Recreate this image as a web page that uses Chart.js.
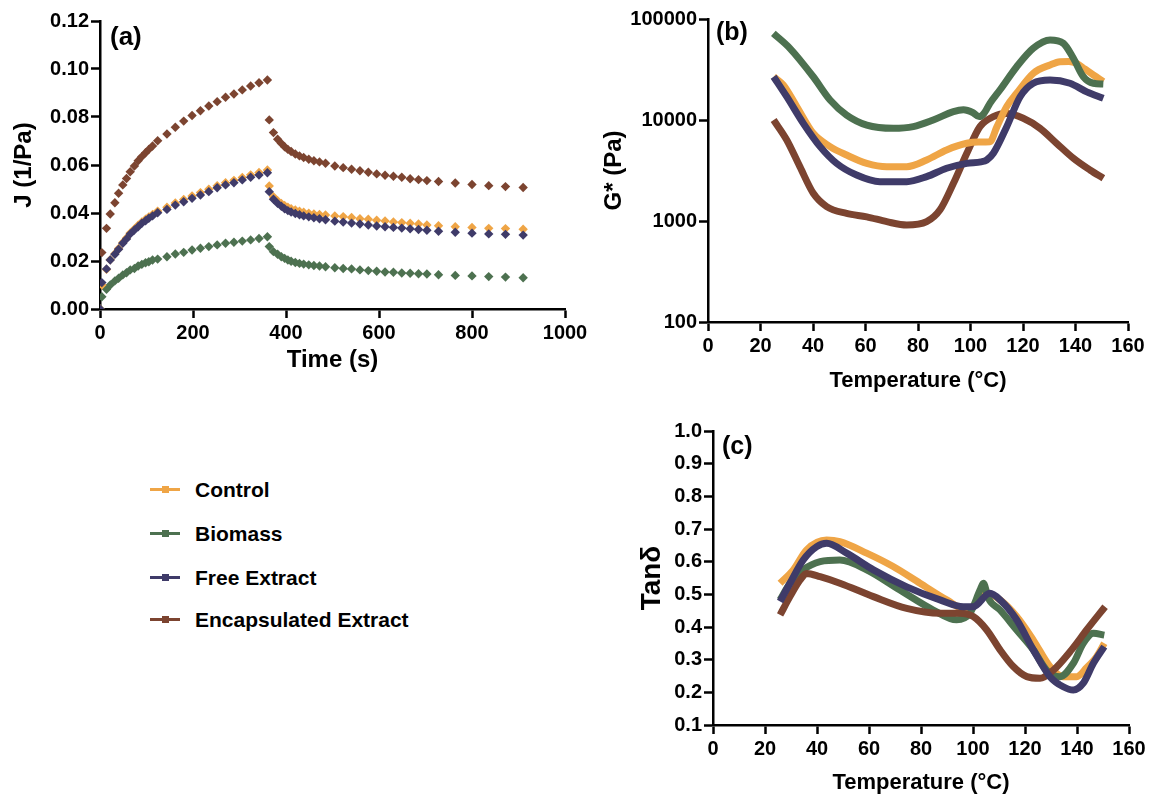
<!DOCTYPE html>
<html><head><meta charset="utf-8">
<script src="https://cdn.jsdelivr.net/npm/chart.js@4.4.1/dist/chart.umd.min.js"></script>
<style>
body{margin:0;background:#fff;width:1151px;height:796px;position:relative;overflow:hidden;font-family:'Liberation Sans',Arial,sans-serif;}
canvas{position:absolute;}
.li{position:absolute;left:0;height:30px;width:500px;}
.li .ln{position:absolute;left:150px;top:13px;width:30px;height:3px;}
.li .mk{position:absolute;left:162px;top:11px;width:7px;height:7px;}
.li .tx{position:absolute;left:195px;top:0;font-weight:bold;font-size:21px;line-height:30px;color:#000;white-space:nowrap;}
</style></head><body>
<canvas id="ca" width="600" height="379" style="left:0;top:0"></canvas>
<canvas id="cb" width="551" height="398" style="left:600px;top:0"></canvas>
<canvas id="cc" width="551" height="396" style="left:600px;top:400px"></canvas>
<div id="legend"></div>
<script>
// ---------- series names & colours ----------
const seriesNames = ['Control', 'Biomass', 'Free Extract', 'Encapsulated Extract'];
const seriesColors = ['#EFA546', '#4D7150', '#3F3B69', '#7C4430'];

// ---------- (a) creep / recovery compliance ----------
const creepTime = [0, 4, 14, 22, 32, 40, 49, 57, 65, 74, 82, 90, 98, 105, 113, 124, 144, 162, 180, 198, 216, 234, 252, 270, 288, 306, 324, 342, 360];
const recoveryTime = [364, 373, 382, 390, 397, 404, 411, 420, 429, 438, 449, 460, 472, 485, 505, 523, 541, 559, 577, 595, 613, 631, 649, 667, 685, 703, 728, 764, 800, 836, 872, 910];

const jControlCreep = [0, 0.0100, 0.0165, 0.0205, 0.0230, 0.0252, 0.0277, 0.0296, 0.0317, 0.0334, 0.0349, 0.0363, 0.0374, 0.0384, 0.0394, 0.0408, 0.0424, 0.0442, 0.0456, 0.0471, 0.0485, 0.0499, 0.0514, 0.0526, 0.0536, 0.0548, 0.0559, 0.0569, 0.0579];
const jControlRec = [0.0513, 0.0468, 0.0451, 0.0440, 0.0431, 0.0424, 0.0418, 0.0413, 0.0407, 0.0403, 0.0399, 0.0396, 0.0394, 0.0392, 0.0388, 0.0385, 0.0381, 0.0376, 0.0374, 0.0370, 0.0367, 0.0363, 0.0360, 0.0357, 0.0354, 0.0350, 0.0347, 0.0343, 0.0340, 0.0336, 0.0335, 0.0332];

const jBiomassCreep = [0, 0.0051, 0.0082, 0.0100, 0.0117, 0.0128, 0.0142, 0.0151, 0.0163, 0.0169, 0.0179, 0.0186, 0.0193, 0.0197, 0.0204, 0.0208, 0.0218, 0.0229, 0.0236, 0.0246, 0.0253, 0.0260, 0.0267, 0.0274, 0.0278, 0.0283, 0.0288, 0.0294, 0.0301];
const jBiomassRec = [0.0260, 0.0239, 0.0228, 0.0218, 0.0211, 0.0204, 0.0199, 0.0194, 0.0190, 0.0187, 0.0184, 0.0181, 0.0179, 0.0176, 0.0172, 0.0169, 0.0167, 0.0163, 0.0160, 0.0157, 0.0154, 0.0153, 0.0150, 0.0149, 0.0147, 0.0146, 0.0143, 0.0140, 0.0138, 0.0135, 0.0133, 0.0130];

const jFreeCreep = [0, 0.0110, 0.0167, 0.0204, 0.0228, 0.0249, 0.0274, 0.0292, 0.0313, 0.0329, 0.0343, 0.0357, 0.0368, 0.0378, 0.0388, 0.0401, 0.0415, 0.0433, 0.0447, 0.0461, 0.0475, 0.0489, 0.0505, 0.0517, 0.0526, 0.0538, 0.0549, 0.0558, 0.0568];
const jFreeRec = [0.0489, 0.0457, 0.0440, 0.0428, 0.0418, 0.0410, 0.0404, 0.0398, 0.0393, 0.0388, 0.0384, 0.0380, 0.0376, 0.0372, 0.0366, 0.0362, 0.0358, 0.0354, 0.0350, 0.0346, 0.0343, 0.0340, 0.0337, 0.0334, 0.0331, 0.0328, 0.0324, 0.0320, 0.0316, 0.0313, 0.0311, 0.0308];

const jEncapCreep = [0, 0.0235, 0.0336, 0.0396, 0.0443, 0.0482, 0.0517, 0.0544, 0.0572, 0.0596, 0.0618, 0.0635, 0.0651, 0.0665, 0.0679, 0.0701, 0.0729, 0.0757, 0.0783, 0.0806, 0.0826, 0.0846, 0.0864, 0.0882, 0.0896, 0.0913, 0.0929, 0.0943, 0.0954];
const jEncapRec = [0.0788, 0.0735, 0.0707, 0.0690, 0.0676, 0.0665, 0.0656, 0.0646, 0.0638, 0.0631, 0.0624, 0.0618, 0.0613, 0.0607, 0.0596, 0.0589, 0.0582, 0.0576, 0.0570, 0.0563, 0.0557, 0.0553, 0.0549, 0.0543, 0.0539, 0.0535, 0.0531, 0.0525, 0.0519, 0.0514, 0.0510, 0.0506];

const aXTicks = [0, 200, 400, 600, 800, 1000];
const aYTicks = [0, 0.02, 0.04, 0.06, 0.08, 0.10, 0.12];

// ---------- (b) complex modulus G* vs temperature ----------
const bControlT = [25, 28.7, 33.8, 40.1, 46.5, 52.8, 60.5, 68.1, 75.7, 83.3, 90.9, 98.6, 103, 107.4, 110, 113.8, 117.6, 123.9, 130.3, 134.1, 137.5, 140.4, 143.5, 146.8, 150.6];
const bControlG = [26800, 22200, 13600, 7380, 5450, 4500, 3720, 3450, 3450, 4020, 5050, 5880, 6050, 6100, 8500, 13600, 18400, 29000, 35100, 37800, 38000, 36400, 32000, 27900, 24000];
const bBiomassT = [24.9, 31.2, 40.1, 46.5, 52.8, 60.5, 70.6, 78.2, 85.8, 93.5, 97.3, 101, 103.3, 105, 107.4, 111.2, 117.6, 123.9, 130.3, 135.4, 139.2, 143, 146.8, 150.6];
const bBiomassG = [72100, 51300, 26800, 15800, 11200, 8900, 8270, 8600, 10000, 12100, 12600, 11800, 10800, 11500, 14600, 19800, 33700, 51300, 62000, 57400, 40800, 26800, 23100, 22700];
const bFreeT = [25, 30, 36.3, 42.7, 49, 56.6, 65.5, 75.7, 83.3, 90.9, 98.6, 104, 106.2, 108.7, 113.8, 118.9, 123.9, 130.3, 137.9, 144.3, 150.6];
const bFreeG = [26800, 17000, 9270, 5450, 3720, 2850, 2450, 2450, 2750, 3330, 3720, 3850, 4020, 4680, 8590, 17000, 23100, 24900, 23100, 19000, 16400];
const bEncapT = [25, 30, 35, 40.1, 45.2, 52.8, 60.5, 68.1, 75.7, 83.3, 88.4, 93.5, 98.6, 103.6, 108.7, 113.8, 120.1, 126.5, 132.8, 139.2, 145.5, 150.6];
const bEncapG = [10000, 6340, 3450, 1880, 1390, 1190, 1100, 985, 912, 985, 1290, 2360, 4680, 8590, 10800, 11600, 10400, 8270, 5880, 4180, 3200, 2650];
const bXTicks = [0, 20, 40, 60, 80, 100, 120, 140, 160];
const bYTicks = [100, 1000, 10000, 100000];

// ---------- (c) tan delta vs temperature ----------
const cControlT = [25.8, 30.9, 36, 43.7, 48.8, 59.1, 69.3, 79.6, 89.9, 97.6, 101.4, 105.3, 110.4, 116.8, 123.2, 129.6, 134.7, 139.9, 143.7, 147.6, 150.5];
const cControlV = [0.534, 0.575, 0.636, 0.666, 0.661, 0.626, 0.585, 0.534, 0.483, 0.452, 0.473, 0.503, 0.483, 0.432, 0.360, 0.279, 0.248, 0.248, 0.275, 0.310, 0.350];
const cBiomassT = [25.8, 29.6, 34.7, 41.2, 48.8, 59.1, 71.9, 84.7, 93.7, 98.8, 102.7, 104, 105.9, 110.4, 116.8, 123.2, 128.3, 133.5, 138.6, 142.4, 146.3, 150.5];
const cBiomassV = [0.483, 0.534, 0.575, 0.600, 0.605, 0.575, 0.513, 0.452, 0.422, 0.442, 0.513, 0.534, 0.488, 0.452, 0.391, 0.330, 0.268, 0.248, 0.289, 0.350, 0.381, 0.375];
const cFreeT = [25.8, 29.6, 34.7, 39.9, 43.7, 51.4, 61.7, 74.5, 87.3, 96.3, 100.1, 106.5, 110.4, 116.8, 123.2, 129.6, 134.7, 138.6, 142.4, 146.3, 150.5];
const cFreeV = [0.478, 0.534, 0.605, 0.646, 0.656, 0.626, 0.575, 0.523, 0.483, 0.462, 0.462, 0.503, 0.483, 0.422, 0.330, 0.248, 0.217, 0.207, 0.228, 0.289, 0.340];
const cEncapT = [25.8, 29.6, 33.5, 36, 41.2, 48.8, 61.7, 74.5, 87.3, 95, 100.1, 105.3, 110.4, 115.5, 120.7, 125.8, 130.9, 137.9, 143.7, 150.8];
const cEncapV = [0.437, 0.493, 0.544, 0.564, 0.554, 0.534, 0.493, 0.457, 0.442, 0.442, 0.432, 0.391, 0.330, 0.279, 0.248, 0.243, 0.268, 0.330, 0.391, 0.462];
const cXTicks = [0, 20, 40, 60, 80, 100, 120, 140, 160];
const cYTicks = [0.1, 0.2, 0.3, 0.4, 0.5, 0.6, 0.7, 0.8, 0.9, 1.0];

// ---------- helpers ----------
const FONT = "'Liberation Sans', Arial, sans-serif";
Chart.defaults.color = '#000';
Chart.defaults.font.family = FONT;
Chart.defaults.font.weight = 'bold';

const zip = (xs, ys) => xs.map((x, i) => ({x, y: ys[i]}));

function panelLabel(text, dx, dy, size) {
  return {
    id: 'panel_' + text.replace(/\W/g, ''),
    afterDraw(chart) {
      const ctx = chart.ctx;
      ctx.save();
      ctx.font = 'bold ' + size + 'px ' + FONT;
      ctx.fillStyle = '#000';
      ctx.textBaseline = 'middle';
      ctx.textAlign = 'left';
      ctx.fillText(text, chart.chartArea.left + dx, chart.chartArea.top + dy);
      ctx.restore();
    }
  };
}

function axisStyle(extra) {
  return Object.assign({
    border: {display: true, color: '#000', width: 2.5},
    grid: {drawOnChartArea: false, drawTicks: true, tickLength: 9, tickColor: '#000', tickWidth: 2.5}
  }, extra);
}

function fixedTicks(list) {
  return function(scale) { scale.ticks = list.map(v => ({value: v})); };
}

// ---------- chart (a) ----------
const aOrder = [1, 2, 0, 3];
const aSeries = [[jControlCreep, jControlRec], [jBiomassCreep, jBiomassRec], [jFreeCreep, jFreeRec], [jEncapCreep, jEncapRec]];
const allTime = creepTime.concat(recoveryTime);
new Chart(document.getElementById('ca'), {
  type: 'scatter',
  data: {
    datasets: aSeries.map((s, i) => ({
      label: seriesNames[i],
      data: zip(allTime, s[0].concat(s[1])),
      pointStyle: 'rectRot',
      pointRadius: 4.7,
      pointBorderWidth: 0,
      backgroundColor: seriesColors[i],
      borderColor: seriesColors[i],
      showLine: false,
      order: aOrder[i]
    }))
  },
  options: {
    responsive: false, animation: false,
    layout: {padding: {top: 21, right: 35, left: 0, bottom: 0}},
    plugins: {legend: {display: false}, tooltip: {enabled: false}},
    scales: {
      x: axisStyle({
        type: 'linear', min: 0, max: 1000,
        afterBuildTicks: fixedTicks(aXTicks),
        afterFit: s => { s.height = 70; },
        ticks: {font: {size: 20, weight: 'bold'}, padding: 3, maxRotation: 0, callback: v => String(v)},
        title: {display: true, text: 'Time (s)', font: {size: 24, weight: 'bold'}, padding: {top: 0, bottom: 4}}
      }),
      y: axisStyle({
        type: 'linear', min: 0, max: 0.12,
        afterBuildTicks: fixedTicks(aYTicks),
        afterFit: s => { s.width = 100; },
        ticks: {font: {size: 20, weight: 'bold'}, padding: 2, callback: v => v.toFixed(2)},
        title: {display: true, text: 'J (1/Pa)', font: {size: 24, weight: 'bold'}, padding: {top: 10, bottom: 0}}
      })
    }
  },
  plugins: [panelLabel('(a)', 10, 17, 26)]
});

// ---------- chart (b) ----------
const bSeries = [[bControlT, bControlG], [bBiomassT, bBiomassG], [bFreeT, bFreeG], [bEncapT, bEncapG]];
new Chart(document.getElementById('cb'), {
  type: 'line',
  data: {
    datasets: bSeries.map((s, i) => ({
      label: seriesNames[i],
      data: zip(s[0], s[1]),
      borderColor: seriesColors[i],
      borderWidth: 7,
      pointRadius: 0,
      fill: false,
      cubicInterpolationMode: 'monotone',
      borderCapStyle: 'butt',
      order: [2, 1, 0, 3][i]
    }))
  },
  options: {
    responsive: false, animation: false,
    layout: {padding: {top: 19, right: 23, left: 0, bottom: 0}},
    plugins: {legend: {display: false}, tooltip: {enabled: false}},
    scales: {
      x: axisStyle({
        type: 'linear', min: 0, max: 160,
        afterBuildTicks: fixedTicks(bXTicks),
        afterFit: s => { s.height = 76; },
        ticks: {font: {size: 20, weight: 'bold'}, padding: 3, maxRotation: 0},
        title: {display: true, text: 'Temperature (°C)', font: {size: 22, weight: 'bold'}, padding: {top: 0, bottom: 4}}
      }),
      y: axisStyle({
        type: 'logarithmic', min: 100, max: 100000,
        afterBuildTicks: fixedTicks(bYTicks),
        afterFit: s => { s.width = 108; },
        ticks: {font: {size: 20, weight: 'bold'}, padding: 2, callback: v => String(v)},
        title: {display: true, text: 'G* (Pa)', font: {size: 24, weight: 'bold'}, padding: {top: 0, bottom: 0}}
      })
    }
  },
  plugins: [panelLabel('(b)', 8, 14, 25)]
});

// ---------- chart (c) ----------
const cSeries = [[cControlT, cControlV], [cBiomassT, cBiomassV], [cFreeT, cFreeV], [cEncapT, cEncapV]];
new Chart(document.getElementById('cc'), {
  type: 'line',
  data: {
    datasets: cSeries.map((s, i) => ({
      label: seriesNames[i],
      data: zip(s[0], s[1]),
      borderColor: seriesColors[i],
      borderWidth: 7,
      pointRadius: 0,
      fill: false,
      cubicInterpolationMode: 'monotone',
      borderCapStyle: 'butt',
      order: [3, 2, 0, 1][i]
    }))
  },
  options: {
    responsive: false, animation: false,
    layout: {padding: {top: 31, right: 22, left: 0, bottom: 0}},
    plugins: {legend: {display: false}, tooltip: {enabled: false}},
    scales: {
      x: axisStyle({
        type: 'linear', min: 0, max: 160,
        afterBuildTicks: fixedTicks(cXTicks),
        afterFit: s => { s.height = 71; },
        ticks: {font: {size: 20, weight: 'bold'}, padding: 3, maxRotation: 0},
        title: {display: true, text: 'Temperature (°C)', font: {size: 22, weight: 'bold'}, padding: {top: 0, bottom: 0}}
      }),
      y: axisStyle({
        type: 'linear', min: 0.1, max: 1.0,
        afterBuildTicks: fixedTicks(cYTicks),
        afterFit: s => { s.width = 113; },
        ticks: {font: {size: 20, weight: 'bold'}, padding: 2, callback: v => v.toFixed(1)},
        title: {display: true, text: 'Tanδ', font: {size: 28, weight: 'bold'}, padding: {top: 35, bottom: 0}}
      })
    }
  },
  plugins: [panelLabel('(c)', 9, 16, 25)]
});

// ---------- legend ----------
const legendTops = [475, 519, 563, 605];
const lg = document.getElementById('legend');
seriesNames.forEach((name, i) => {
  const d = document.createElement('div');
  d.className = 'li';
  d.style.top = legendTops[i] + 'px';
  d.innerHTML = '<div class="ln" style="background:' + seriesColors[i] + '"></div>' +
    '<div class="mk" style="background:' + seriesColors[i] + '"></div>' +
    '<div class="tx">' + name + '</div>';
  lg.appendChild(d);
});
</script>
</body></html>
